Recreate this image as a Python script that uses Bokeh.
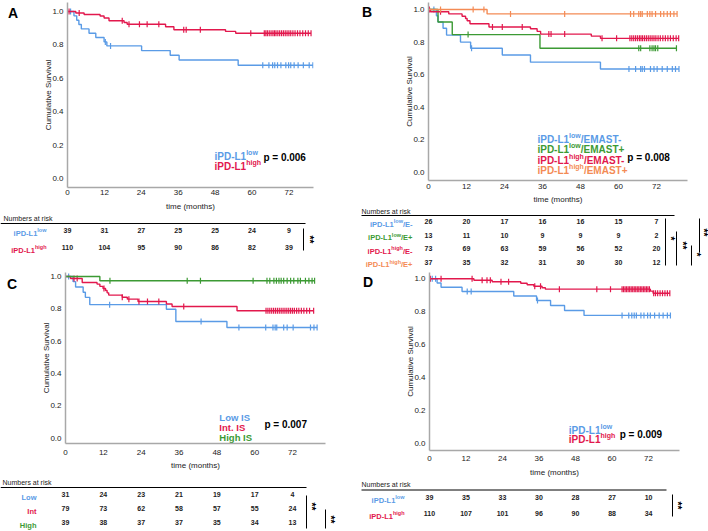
import math
from bokeh.plotting import figure
from bokeh.models import Range1d, FixedTicker, PrintfTickFormatter
from bokeh.layouts import column, row
from bokeh.embed import file_html
from bokeh.resources import INLINE
from bokeh.core.properties import value

# ---------------- data ----------------
X_TICKS = [0, 12, 24, 36, 48, 60, 72]
Y_TICKS = [0.0, 0.2, 0.4, 0.6, 0.8, 1.0]

# Panel A : iPD-L1 low / high
A_LOW_T = [2.1, 3.0, 3.7, 4.5, 7.0, 9.2, 11.9, 12.8, 24.1, 33.4, 36.3, 55.5]
A_LOW_S = [0.974, 0.948, 0.922, 0.896, 0.870, 0.844, 0.818, 0.794, 0.766, 0.738, 0.710, 0.678]
A_LOW_C = [1.0, 12.3, 14.0, 63.5, 65.5, 66.7, 67.4, 68.3, 69.4, 71.0, 71.9, 72.6, 73.7, 75.0, 76.7, 78.6, 79.8]
A_HIGH_T = [2.7, 5.4, 10.6, 11.9, 13.5, 18.4, 19.4, 31.9, 34.6, 51.4, 54.7]
A_HIGH_S = [0.991, 0.982, 0.973, 0.961, 0.945, 0.934, 0.924, 0.909, 0.891, 0.881, 0.870]
A_HIGH_C = [0.5, 3.8, 17.8, 20.0, 23.4, 25.9, 29.7, 37.8, 38.6, 43.2, 59.6, 64.0, 64.5, 65.0, 65.6,
            66.2, 66.8, 67.3, 67.8, 68.4, 69.0, 69.6, 70.2, 70.8, 71.4, 72.0, 72.6, 73.3, 74.0,
            74.8, 75.6, 76.5, 77.4, 78.3, 79.2]
RISK_A_LOW = [39, 31, 27, 25, 25, 24, 9]
RISK_A_HIGH = [110, 104, 95, 90, 86, 82, 39]
P_A = "p = 0.006"

# Panel B : iPD-L1 x EMAST
B_LOWM_T = [2.5, 3.0, 4.6, 5.7, 10.1, 13.3, 23.3, 32.2, 54.3]
B_LOWM_S = [0.962, 0.923, 0.885, 0.843, 0.800, 0.762, 0.721, 0.677, 0.635]
B_LOWM_C = [1.7, 13.6, 63.3, 65.4, 67.0, 67.5, 68.2, 70.1, 71.2, 72.2, 73.8, 75.4, 77.0, 78.0, 79.1]
B_LOWP_T = [3.0, 7.5, 35.2]
B_LOWP_S = [0.923, 0.846, 0.762]
B_LOWP_C = [12.5, 66.4, 67.0, 69.9, 70.6, 71.2, 71.7, 72.4, 78.3]
B_HIGHM_T = [0.6, 6.4, 10.6, 11.7, 12.2, 13.1, 19.1, 32.2, 34.3, 35.4, 51.4, 54.3]
B_HIGHM_S = [0.986, 0.973, 0.959, 0.945, 0.931, 0.913, 0.893, 0.882, 0.866, 0.849, 0.837, 0.823]
B_HIGHM_C = [0.3, 3.8, 20.2, 23.3, 29.6, 38.0, 38.7, 43.0, 54.8, 59.4, 63.6, 64.2, 64.8, 65.4, 66.0,
             66.6, 67.1, 67.6, 68.2, 68.8, 69.4, 70.0, 70.6, 71.2, 71.8, 72.5, 73.2, 74.0, 74.8,
             75.6, 76.4, 77.3, 78.2, 79.0]
B_HIGHP_T = [18.5]
B_HIGHP_S = [0.973]
B_HIGHP_C = [3.8, 14.1, 17.5, 25.9, 43.0, 63.8, 64.8, 66.4, 67.0, 67.5, 69.1, 69.9, 70.6, 71.7,
             73.3, 74.3, 75.4, 76.4, 77.5, 78.5]
RISK_B_LOWM = [26, 20, 17, 16, 16, 15, 7]
RISK_B_LOWP = [13, 11, 10, 9, 9, 9, 2]
RISK_B_HIGHM = [73, 69, 63, 59, 56, 52, 20]
RISK_B_HIGHP = [37, 35, 32, 31, 30, 30, 12]
P_B = "p = 0.008"

# Panel C : immune score
C_LOW_T = [2.4, 3.2, 5.6, 6.3, 7.7, 32.0, 35.0, 51.2]
C_LOW_S = [0.968, 0.935, 0.903, 0.871, 0.826, 0.797, 0.722, 0.685]
C_LOW_C = [1.0, 14.0, 43.0, 55.0, 63.5, 65.8, 66.5, 67.0, 69.2, 70.3, 72.2, 77.7, 78.8, 79.8]
C_INT_T = [1.6, 5.3, 10.0, 10.9, 11.9, 12.7, 13.2, 13.7, 18.0, 19.6, 23.0, 32.0, 33.8, 54.4]
C_INT_S = [0.988, 0.963, 0.953, 0.939, 0.926, 0.913, 0.899, 0.885, 0.872, 0.860, 0.845, 0.830, 0.814, 0.788]
C_INT_C = [2.7, 3.7, 12.2, 18.0, 20.1, 23.3, 26.0, 29.6, 37.5, 63.6, 64.2, 64.8, 65.4, 66.0, 66.6,
           67.2, 67.8, 68.4, 69.0, 69.6, 70.2, 70.8, 71.4, 72.0, 72.6, 73.3, 74.0, 74.8, 75.6,
           76.5, 77.4, 78.7]
C_HIGH_T = [10.9]
C_HIGH_S = [0.974]
C_HIGH_C = [14.1, 38.6, 42.8, 59.5, 63.9, 64.8, 66.1, 66.9, 67.7, 68.4, 69.2, 70.3, 71.4, 72.4,
            73.7, 74.5, 76.1, 77.2, 78.2, 79.0]
RISK_C_LOW = [31, 24, 23, 21, 19, 17, 4]
RISK_C_INT = [79, 73, 62, 58, 57, 55, 24]
RISK_C_HIGH = [39, 38, 37, 37, 35, 34, 13]
P_C = "p = 0.007"

# Panel D : iPD-L1 low / high (second cohort)
D_LOW_T = [2.5, 3.8, 10.7, 27.7, 35.2, 39.8, 44.4, 50.8]
D_LOW_S = [0.974, 0.949, 0.923, 0.896, 0.868, 0.838, 0.808, 0.778]
D_LOW_C = [0.9, 2.0, 12.4, 13.7, 35.5, 63.3, 65.5, 66.5, 67.3, 68.0, 69.5, 70.5, 71.7, 72.6, 74.0,
           75.5, 76.8, 78.2, 79.2]
D_HIGH_T = [14.6, 20.6, 30.0, 32.1, 34.3, 37.0, 38.1, 72.6, 73.5]
D_HIGH_S = [0.991, 0.982, 0.973, 0.964, 0.955, 0.946, 0.937, 0.925, 0.912]
D_HIGH_C = [0.3, 3.8, 14.0, 17.3, 18.9, 20.0, 23.5, 26.0, 34.6, 36.5, 42.7, 55.0, 59.5, 63.3, 63.8,
            64.3, 64.8, 65.3, 65.8, 66.3, 66.8, 67.3, 67.8, 68.3, 68.8, 69.3, 69.8, 70.3, 70.8,
            71.3, 71.8, 72.3, 73.7, 74.3, 75.0, 75.8, 76.6, 77.4, 78.2, 79.0]
RISK_D_LOW = [39, 35, 33, 30, 28, 27, 10]
RISK_D_HIGH = [110, 107, 101, 96, 90, 88, 34]
P_D = "p = 0.009"

# ---------------- styling ----------------
FONT = "Liberation Sans"
BLUE = "#5A9BE6"
RED = "#E2184D"
GREEN = "#3C9A34"
ORANGE = "#F48B55"
INK = "#222222"
QW = 354          # quadrant width
LW = 20           # width of the panel-letter strip

BOLD_W = {'i': .278, 'P': .667, 'D': .722, '-': .333, 'L': .611, '1': .556, 'l': .278, 'o': .611,
          'w': .778, 'h': .611, 'g': .611, '/': .278, 'E': .667, 'M': .833, 'A': .722, 'S': .667,
          'T': .611, '+': .584, 'I': .278, 'n': .611, 't': .333, '.': .278, ' ': .278, 'H': .722}


def tw(s, size):
    return sum(BOLD_W.get(c, 0.6) for c in s) * size


def rich(p, x, y, segs, color, align="left"):
    widths = [tw(t, s) for t, s, _ in segs]
    off = -sum(widths) if align == "right" else 0.0
    main = segs[0][1]
    for (t, s, r), w in zip(segs, widths):
        p.text(x=[x], y=[y], text=[t], x_offset=off, y_offset=0.36 * main - r,
               text_align="left", text_baseline="alphabetic", text_font=value(FONT),
               text_font_size=f"{s}px", text_font_style="bold", text_color=color)
        off += w


def surv_at(c, times, survs):
    s = 1.0
    for t, v in zip(times, survs):
        if t <= c:
            s = v
    return s


def bare(width, height, xr, yr):
    f = figure(width=width, height=height, x_range=xr, y_range=yr, output_backend="svg",
               toolbar_location=None, title=None, min_border_left=0, min_border_right=0,
               min_border_top=0, min_border_bottom=0, x_axis_location=None,
               y_axis_location=None, frame_align=False)
    f.outline_line_color = None
    f.grid.visible = False
    return f


def make_letter(letter, height, cx, cy):
    f = bare(LW, height, Range1d(0, LW), Range1d(height, 0))
    f.text(x=[cx], y=[cy], text=[letter], text_align="center", text_baseline="middle",
           text_font=value(FONT), text_font_size="14px", text_font_style="bold",
           text_color="black")
    return f


def make_km(cfg, curves, legend, pval):
    bl = cfg["yax"] - cfg["qx"] - LW
    w = QW - LW
    br = w - bl - cfg["frame_w"]
    bb = cfg["km_h"] - cfg["bt"] - cfg["frame_h"]
    p = figure(width=w, height=cfg["km_h"], x_range=Range1d(0, cfg["frame_w"] / cfg["ppm"]),
               y_range=Range1d(cfg["y0"], cfg["y1"]), output_backend="svg",
               toolbar_location=None, title=None, min_border_left=bl, min_border_right=br,
               min_border_top=cfg["bt"], min_border_bottom=bb, frame_align=False)
    p.outline_line_color = None
    p.grid.visible = False
    p.xaxis.ticker = FixedTicker(ticks=X_TICKS)
    p.yaxis.ticker = FixedTicker(ticks=Y_TICKS)
    p.yaxis.formatter = PrintfTickFormatter(format="%.1f")
    p.xaxis.axis_label = "time (months)"
    p.yaxis.axis_label = "Cumulative Survival"
    for ax in (p.xaxis[0], p.yaxis[0]):
        ax.major_tick_line_color = None
        ax.minor_tick_line_color = None
        ax.major_tick_out = 0
        ax.major_tick_in = 0
        ax.minor_tick_out = 0
        ax.minor_tick_in = 0
        ax.axis_line_color = "#A8A8A8"
        ax.axis_line_width = 1.5
        ax.major_label_text_font = FONT
        ax.major_label_text_font_size = "8px"
        ax.major_label_text_color = INK
        ax.axis_label_text_font = FONT
        ax.axis_label_text_font_size = "8px"
        ax.axis_label_text_font_style = "normal"
        ax.axis_label_text_color = INK
    p.xaxis.major_label_standoff = cfg["xs"][0]
    p.xaxis.axis_label_standoff = cfg["xs"][1]
    p.yaxis.major_label_standoff = 4
    p.yaxis.axis_label_standoff = -4

    for times, survs, cens, color in curves:
        t_end = max(cens + times)
        p.step([0] + times + [t_end], [1.0] + survs + [survs[-1]], mode="after",
               line_color=color, line_width=1.4)
        p.scatter(cens, [surv_at(c, times, survs) for c in cens], marker="dash",
                  angle=math.pi / 2, size=6, line_color=color, line_width=1.2)

    lx, lys, items = legend
    for y, (segs, color) in zip(lys, items):
        rich(p, lx, y, segs, color)
    p.text(x=[pval[0]], y=[pval[1]], text=[pval[2]], text_align="left", text_baseline="middle",
           text_font=value(FONT), text_font_size="10px", text_font_style="bold", text_color="black")
    return p


def make_table(cfg, tab, rows):
    bl = cfg["yax"] - cfg["qx"]
    ppm = cfg["ppm"]
    h = cfg["tab_h"]
    t = bare(QW, h, Range1d(-bl / ppm, (QW - bl) / ppm), Range1d(h, 0))

    def mx(px):
        return (px - cfg["yax"]) / ppm

    t.text(x=[mx(tab["nar_x"])], y=[tab["nar_y"]], text=["Numbers at risk"], text_align="left",
           text_baseline="middle", text_font=value(FONT), text_font_size="7px",
           text_color=INK)
    t.segment(x0=[mx(tab["rule_x"][0])], y0=[tab["rule_y"]], x1=[mx(tab["rule_x"][1])],
              y1=[tab["rule_y"]], line_color="black", line_width=1)
    for ry, (segs, color, counts) in zip(tab["rows"], rows):
        rich(t, mx(tab["lab_right"]), ry, segs, color, align="right")
        t.text(x=X_TICKS, y=[ry] * len(X_TICKS), text=[str(c) for c in counts],
               text_align="center", text_baseline="middle", text_font=value(FONT),
               text_font_size="7px", text_font_style="bold", text_color=INK)
    for bx, ya, yb, star, sx, sy in tab["bars"]:
        t.segment(x0=[mx(bx)], y0=[ya], x1=[mx(bx)], y1=[yb], line_color="black", line_width=1)
        t.text(x=[mx(sx)], y=[sy], text=[star], angle=-math.pi / 2, text_align="center",
               text_baseline="middle", text_font=value(FONT), text_font_size="10px",
               text_font_style="bold", text_color="black")
    return t


def sup(supt, tail, size, ssize, rise):
    segs = [("iPD-L1", size, 0), (supt, ssize, rise)]
    if tail:
        segs.append((tail, size, 0))
    return segs


# ---------------- panel geometry (page pixels) ----------------
CFG_A = dict(qx=0, yax=67, ppm=3.075, frame_w=246, bt=2, frame_h=185, y0=-0.054, y1=1.054,
             km_h=214, tab_h=56, xs=(2, 4))
CFG_B = dict(qx=354, yax=428, ppm=3.1667, frame_w=259, bt=2, frame_h=178, y0=-0.049, y1=1.043,
             km_h=207, tab_h=63, xs=(3, 3))
CFG_C = dict(qx=0, yax=65, ppm=3.153, frame_w=260, bt=2, frame_h=171, y0=-0.0328, y1=1.0247,
             km_h=203, tab_h=57, xs=(6, 3))
CFG_D = dict(qx=354, yax=429, ppm=3.042, frame_w=250, bt=2, frame_h=178, y0=-0.041, y1=1.038,
             km_h=210, tab_h=50, xs=(5, 4))

TAB_A = dict(nar_x=3, nar_y=3.5, rule_y=9, rule_x=(0, 305), rows=[16, 33], lab_right=46,
             bars=[(303, 14, 36, "**", 309, 25)])
TAB_B = dict(nar_x=361, nar_y=3.5, rule_y=8, rule_x=(361, 674), rows=[14, 27.5, 41, 54.5],
             lab_right=412,
             bars=[(665, 11, 58, "*", 670, 31), (676, 24, 58, "**", 681.5, 38),
                   (691, 38, 58, "*", 696, 47), (699, 11, 45, "**", 703, 25)])
TAB_C = dict(nar_x=2, nar_y=9, rule_y=14, rule_x=(0, 306), rows=[21, 35, 49], lab_right=36,
             bars=[(306, 22, 55, "**", 311, 33), (325, 36, 55, "**", 330, 46)])
TAB_D = dict(nar_x=361, nar_y=4, rule_y=9.5, rule_x=(361, 666), rows=[17, 33], lab_right=404,
             bars=[(672, 14, 36, "**", 677, 25)])

# ---------------- panels ----------------
letA = make_letter("A", 30, 12.5, 12.5)
kmA = make_km(CFG_A,
              [(A_LOW_T, A_LOW_S, A_LOW_C, BLUE), (A_HIGH_T, A_HIGH_S, A_HIGH_C, RED)],
              (47.8, [0.156, 0.096], [(sup("low", "", 10, 7, 4), BLUE),
                                      (sup("high", "", 10, 7, 4), RED)]),
              (63.7, 0.126, P_A))
tabA = make_table(CFG_A, TAB_A, [(sup("low", "", 7.5, 5.5, 3), BLUE, RISK_A_LOW),
                                 (sup("high", "", 7.5, 5.5, 3), RED, RISK_A_HIGH)])

letB = make_letter("B", 30, 12.5, 11.5)
kmB = make_km(CFG_B,
              [(B_LOWM_T, B_LOWM_S, B_LOWM_C, BLUE), (B_LOWP_T, B_LOWP_S, B_LOWP_C, GREEN),
               (B_HIGHM_T, B_HIGHM_S, B_HIGHM_C, RED), (B_HIGHP_T, B_HIGHP_S, B_HIGHP_C, ORANGE)],
              (34.4, [0.227, 0.161, 0.094, 0.033],
               [(sup("low", "/EMAST-", 10, 7, 4), BLUE),
                (sup("low", "/EMAST+", 10, 7, 4), GREEN),
                (sup("high", "/EMAST-", 10, 7, 4), RED),
                (sup("high", "/EMAST+", 10, 7, 4), ORANGE)]),
              (62.8, 0.092, P_B))
tabB = make_table(CFG_B, TAB_B, [(sup("low", "/E-", 7.5, 5.5, 3), BLUE, RISK_B_LOWM),
                                 (sup("low", "/E+", 7.5, 5.5, 3), GREEN, RISK_B_LOWP),
                                 (sup("high", "/E-", 7.5, 5.5, 3), RED, RISK_B_HIGHM),
                                 (sup("high", "/E+", 7.5, 5.5, 3), ORANGE, RISK_B_HIGHP)])

letC = make_letter("C", 30, 11.5, 13)
kmC = make_km(CFG_C,
              [(C_LOW_T, C_LOW_S, C_LOW_C, BLUE), (C_INT_T, C_INT_S, C_INT_C, RED),
               (C_HIGH_T, C_HIGH_S, C_HIGH_C, GREEN)],
              (48.8, [0.147, 0.085, 0.023], [([("Low IS", 9.5, 0)], BLUE),
                                             ([("Int. IS", 9.5, 0)], RED),
                                             ([("High IS", 9.5, 0)], GREEN)]),
              (63.1, 0.083, P_C))
tabC = make_table(CFG_C, TAB_C, [([("Low", 7.5, 0)], BLUE, RISK_C_LOW),
                                 ([("Int", 7.5, 0)], RED, RISK_C_INT),
                                 ([("High", 7.5, 0)], GREEN, RISK_C_HIGH)])

letD = make_letter("D", 30, 13.5, 11.5)
kmD = make_km(CFG_D,
              [(D_LOW_T, D_LOW_S, D_LOW_C, BLUE), (D_HIGH_T, D_HIGH_S, D_HIGH_C, RED)],
              (45.8, [0.105, 0.046], [(sup("low", "", 10, 7, 4), BLUE),
                                      (sup("high", "", 10, 7, 4), RED)]),
              (62.5, 0.056, P_D))
tabD = make_table(CFG_D, TAB_D, [(sup("low", "", 7.5, 5.5, 3), BLUE, RISK_D_LOW),
                                 (sup("high", "", 7.5, 5.5, 3), RED, RISK_D_HIGH)])

layout = column(
    row(column(row(letA, kmA), tabA), column(row(letB, kmB), tabB)),
    row(column(row(letC, kmC), tabC), column(row(letD, kmD), tabD)),
)

open("out.html", "w").write(file_html(layout, INLINE))
